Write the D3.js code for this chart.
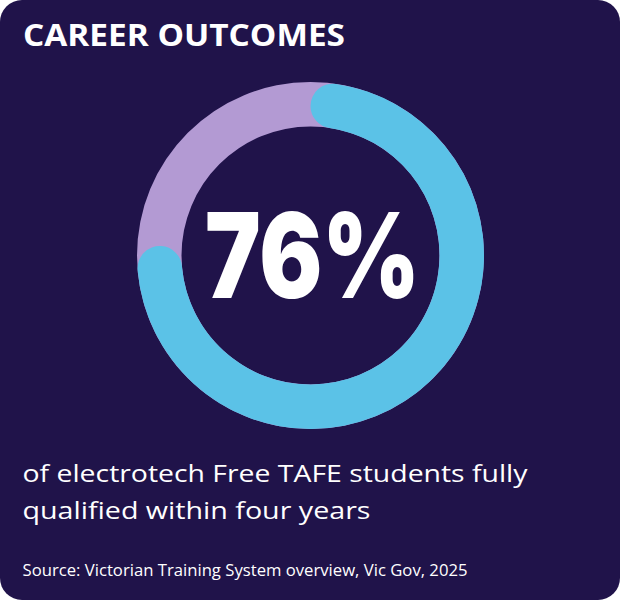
<!DOCTYPE html>
<html>
<head>
<meta charset="utf-8">
<script src="https://cdn.jsdelivr.net/npm/d3@7"></script>
<style>
  body { margin: 0; background: #ffffff; }
  svg { display: block; }
</style>
</head>
<body>
<div class="card"></div>
<script>
(function drawOutcome() {
	"use strict";
	var width = 620;
	var height = 600;

	// data
	var title = ["CAREER OUTCOMES"];
	var shareValue = [76];
	var shareTotal = [100];
	var captionLines = ["of electrotech Free TAFE students fully", "qualified within four years"];
	var sourceLine = ["Source: Victorian Training System overview, Vic Gov, 2025"];

	var navy = "#20134a";
	var blue = "#5bc2e7";
	var lilac = "#b39ad3";

	var svg = d3.select(".card")
				.append("svg")
				.attr("width", width)
				.attr("height", height);

	svg.append("rect")
	   .attr("width", width)
	   .attr("height", height)
	   .attr("rx", 22)
	   .attr("fill", navy);

	// title
	svg.append("text")
	   .attr("x", 23)
	   .attr("y", 46)
	   .attr("fill", "#fff")
	   .attr("font-family", "'Open Sans', sans-serif")
	   .attr("font-weight", 700)
	   .attr("font-size", 30.5)
	   .attr("textLength", 322)
	   .attr("lengthAdjust", "spacingAndGlyphs")
	   .text(title[0]);

	// donut
	var cx = 310.5, cy = 255.5;
	var outerR = 173.5, innerR = 129;

	var angle = d3.scaleLinear()
				  .domain([0, shareTotal[0]])
				  .range([0, 2 * Math.PI]);

	var ring = d3.arc()
				 .innerRadius(innerR)
				 .outerRadius(outerR);

	var g = svg.append("g")
			   .attr("transform", "translate(" + cx + "," + cy + ")");

	g.append("path")
	 .attr("d", ring({ startAngle: angle(0), endAngle: angle(shareTotal[0]) }))
	 .attr("fill", lilac);

	ring.cornerRadius((outerR - innerR) / 2);

	g.selectAll(".share")
	 .data(shareValue)
	 .enter()
	 .append("path")
	 .attr("class", "share")
	 .attr("d", function(d) {
	 	return ring({ startAngle: angle(0), endAngle: angle(d) });
	 })
	 .attr("fill", blue);

	// big number
	svg.append("text")
	   .attr("x", 312.5)
	   .attr("y", 298)
	   .attr("text-anchor", "middle")
	   .attr("fill", "#fff")
	   .attr("font-family", "Inter, Roboto, sans-serif")
	   .attr("font-weight", 900)
	   .attr("font-size", 118)
	   .attr("textLength", 215)
	   .attr("lengthAdjust", "spacingAndGlyphs")
	   .text(shareValue[0] + "%");

	// caption
	var lineWidths = [505, 348];
	svg.selectAll(".caption")
	   .data(captionLines)
	   .enter()
	   .append("text")
	   .attr("class", "caption")
	   .attr("x", 22.5)
	   .attr("y", function(d, i) { return 481.5 + i * 37; })
	   .attr("fill", "#fff")
	   .attr("font-family", "'Open Sans', sans-serif")
	   .attr("font-size", 23.5)
	   .attr("textLength", function(d, i) { return lineWidths[i]; })
	   .attr("lengthAdjust", "spacingAndGlyphs")
	   .text(function(d) { return d; });

	svg.append("text")
	   .attr("x", 22.5)
	   .attr("y", 576)
	   .attr("fill", "#fff")
	   .attr("font-family", "'Open Sans', sans-serif")
	   .attr("font-size", 17.2)
	   .attr("textLength", 445)
	   .attr("lengthAdjust", "spacingAndGlyphs")
	   .text(sourceLine[0]);
}());
</script>
</body>
</html>
